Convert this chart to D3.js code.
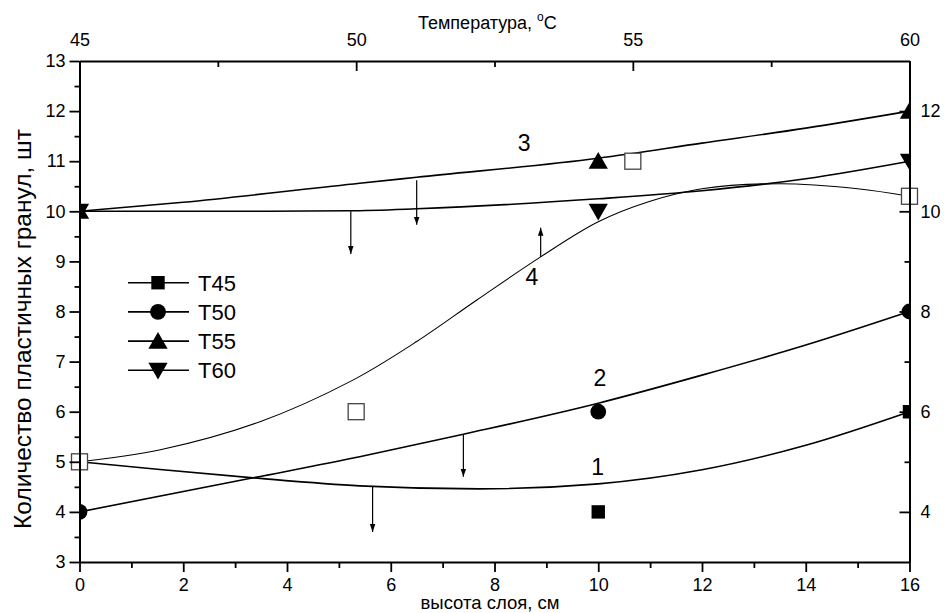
<!DOCTYPE html>
<html><head><meta charset="utf-8">
<script src="https://cdn.jsdelivr.net/npm/d3@7/dist/d3.min.js"></script>
<style>body{margin:0;background:#fff}svg{display:block}text{font-family:"Liberation Sans",Arial,sans-serif;fill:#000}</style>
</head><body><svg id="c" width="944" height="613"></svg>
<script>
// ---- data ----
const heights = [0, 10, 16];
const T45 = [5, 4, 6];
const T50 = [4, 6, 8];
const T55 = [10, 11, 12];
const T60 = [10, 10, 11];
const seriesNames = ["T45", "T50", "T55", "T60"];
const temps = [45, 50, 55, 60];
const tempValues = [5, 6, 11, 10.3];
// fitted curves
const curve1 = [[0,5],[1.5,4.85],[3.35,4.68],[5.4,4.52],[7.7,4.46],[10,4.56],[12,4.84],[14,5.33],[16,6]];
const curve2 = [[0,4],[3.35,4.68],[5.4,5.1],[7.4,5.55],[10,6.17],[12,6.73],[14,7.33],[16,8]];
const curve3 = [[0,10],[2,10.18],[5.4,10.56],[6.5,10.68],[10,11.06],[12,11.36],[14,11.66],[16,12]];
const curve60 = [[0,10],[3,10],[5.2,10.01],[6.5,10.05],[10,10.25],[12,10.41],[14,10.65],[16,11]];
const curve4 = [[0,5],[1.56,5.24],[3.48,5.8],[5.27,6.63],[6.5,7.4],[7.66,8.23],[8.89,9.09],[10,9.79],[11,10.2],[12,10.45],[13.5,10.55],[15,10.45],[16,10.3]];
const arrows = [[5.23,10.0,9.15],[6.5,10.62,9.73],[8.89,9.09,9.67],[7.4,5.55,4.70],[5.65,4.50,3.60]];
const curveLabels = [["1",9.99,4.90],["2",10.03,6.67],["3",8.57,11.37],["4",8.72,8.69]];
const xTicks = [0,2,4,6,8,10,12,14,16];
const yTicks = [3,4,5,6,7,8,9,10,11,12,13];
const rightTicks = [4,6,8,10,12];
const topTicks = [45,50,55,60];
const xTitle = "высота слоя, см";
const yTitle = "Количество пластичных гранул, шт";
const topTitle = "Температура, ";

// ---- layout ----
const svg = d3.select("#c");
const L = 79.5, R = 909.5, T = 61, B = 562;
const x = d3.scaleLinear().domain([0,16]).range([L,R]);
const xt = d3.scaleLinear().domain([45,60]).range([L,R]);
const y = d3.scaleLinear().domain([3,13]).range([B,T]);

svg.append("defs").append("clipPath").attr("id","clip")
  .append("rect").attr("x",L).attr("y",T).attr("width",R-L).attr("height",B-T);
const mk = svg.append("defs").append("marker").attr("id","arr")
  .attr("viewBox","0 0 10 10").attr("refX",10).attr("refY",5)
  .attr("markerWidth",8).attr("markerHeight",8).attr("markerUnits","userSpaceOnUse")
  .attr("orient","auto");
mk.append("path").attr("d","M0,1.5 L10,5 L0,8.5 Z").attr("fill","#000");

// curves
const line = d3.line().x(d=>x(d[0])).y(d=>y(d[1])).curve(d3.curveMonotoneX);
const gc = svg.append("g").attr("clip-path","url(#clip)");
[curve1,curve2,curve3,curve60].forEach(c=>{
  gc.append("path").attr("d",line(c)).attr("fill","none").attr("stroke","#000").attr("stroke-width",1.6);
});
gc.append("path").attr("d",d3.line().x(d=>x(d[0])).y(d=>y(d[1])).curve(d3.curveCatmullRom)(curve4))
  .attr("fill","none").attr("stroke","#000").attr("stroke-width",1.1);

// arrows
svg.append("g").selectAll("line").data(arrows).join("line")
  .attr("x1",d=>x(d[0])).attr("x2",d=>x(d[0]))
  .attr("y1",d=>y(d[1])).attr("y2",d=>y(d[2]))
  .attr("stroke","#000").attr("stroke-width",1.2).attr("marker-end","url(#arr)");

// curve labels
svg.append("g").selectAll("text").data(curveLabels).join("text")
  .attr("x",d=>x(d[1])).attr("y",d=>y(d[2])).attr("dy","0.36em")
  .attr("text-anchor","middle").attr("font-size",23).text(d=>d[0]);

// symbols
const sym = {
  T45: d3.symbol().type(d3.symbolSquare).size(180),
  T50: d3.symbol().type(d3.symbolCircle).size(195),
  T55: d3.symbol().type(d3.symbolTriangle).size(160),
  T60: d3.symbol().type(d3.symbolTriangle).size(160)
};
const rot = {T45:0,T50:0,T55:0,T60:180};
const gm = svg.append("g").attr("clip-path","url(#clip)");
[T45,T50,T55,T60].forEach((vals,i)=>{
  const nm = seriesNames[i];
  gm.selectAll(null).data(vals.map((v,j)=>[heights[j],v])).join("path")
    .attr("d",sym[nm]()).attr("fill","#000")
    .attr("transform",d=>`translate(${x(d[0])},${y(d[1]) + (nm==="T55"?2:nm==="T60"?-2:0)}) rotate(${rot[nm]})`);
});

// open squares vs temperature
svg.append("g").selectAll("rect").data(temps.map((t,i)=>[t,tempValues[i]])).join("rect")
  .attr("x",d=>xt(d[0])-8).attr("y",d=>y(d[1])-8).attr("width",16).attr("height",16)
  .attr("fill","#fff").attr("stroke","#444").attr("stroke-width",1.3);

// axes
const fs = 18;
function styleAxis(g){
  g.select(".domain").attr("stroke","#000").attr("stroke-width",2);
  g.selectAll(".tick line").attr("stroke","#000").attr("stroke-width",1.8);
  g.selectAll(".tick text").attr("font-size",fs).attr("font-family","Liberation Sans, Arial, sans-serif");
}
// bottom
const gb = svg.append("g").attr("transform",`translate(0,${B})`)
  .call(d3.axisBottom(x).tickValues(xTicks).tickSize(10).tickPadding(6).tickSizeOuter(0));
styleAxis(gb);
svg.append("g").attr("transform",`translate(0,${B})`)
  .call(d3.axisBottom(x).tickValues(d3.range(1,16,2)).tickSize(6).tickFormat("").tickSizeOuter(0))
  .call(g=>{g.select(".domain").remove();g.selectAll("line").attr("stroke","#000").attr("stroke-width",1.8);});
// left
const gl = svg.append("g").attr("transform",`translate(${L},0)`)
  .call(d3.axisLeft(y).tickValues(yTicks).tickSize(10).tickPadding(4).tickSizeOuter(0));
styleAxis(gl);
svg.append("g").attr("transform",`translate(${L},0)`)
  .call(d3.axisLeft(y).tickValues(d3.range(3.5,13,1)).tickSize(5).tickFormat("").tickSizeOuter(0))
  .call(g=>{g.select(".domain").remove();g.selectAll("line").attr("stroke","#000").attr("stroke-width",1.8);});
// top (temperature), ticks inward
const gt = svg.append("g").attr("transform",`translate(0,${T})`)
  .call(d3.axisTop(xt).tickValues(topTicks).tickSize(-10).tickPadding(15).tickSizeOuter(0));
styleAxis(gt);
svg.append("g").attr("transform",`translate(0,${T})`)
  .call(d3.axisTop(xt).tickValues([47.5,52.5,57.5]).tickSize(-6).tickFormat("").tickSizeOuter(0))
  .call(g=>{g.select(".domain").remove();g.selectAll("line").attr("stroke","#000").attr("stroke-width",1.8);});
// right, ticks inward
const gr = svg.append("g").attr("transform",`translate(${R},0)`)
  .call(d3.axisRight(y).tickValues(rightTicks).tickSize(-10).tickPadding(11).tickSizeOuter(0));
styleAxis(gr);
svg.append("g").attr("transform",`translate(${R},0)`)
  .call(d3.axisRight(y).tickValues([5,7,9,11]).tickSize(-5).tickFormat("").tickSizeOuter(0))
  .call(g=>{g.select(".domain").remove();g.selectAll("line").attr("stroke","#000").attr("stroke-width",1.8);});

// titles
svg.append("text").attr("x",490).attr("y",608.5).attr("text-anchor","middle").attr("font-size",18.5).text(xTitle);
svg.append("text").attr("transform","translate(31,329) rotate(-90)").attr("text-anchor","middle").attr("font-size",24.5).text(yTitle);
const tt = svg.append("text").attr("x",418).attr("y",28.5).attr("font-size",18);
tt.append("tspan").text(topTitle);
tt.append("tspan").attr("font-size",12).attr("dy",-8).text("o");
tt.append("tspan").attr("dy",8).text("C");

// legend
const lg = svg.append("g");
seriesNames.forEach((nm,i)=>{
  const yy = 282.7 + i*29.2;
  lg.append("line").attr("x1",128).attr("x2",189).attr("y1",yy).attr("y2",yy).attr("stroke","#000").attr("stroke-width",1.6);
  lg.append("path").attr("d",sym[nm]()).attr("fill","#000")
    .attr("transform",`translate(158,${yy + (nm==="T55"?2:nm==="T60"?-2:0)}) rotate(${rot[nm]})`);
  lg.append("text").attr("x",198).attr("y",yy).attr("dy","0.36em").attr("font-size",22).text(nm);
});
</script></body></html>
